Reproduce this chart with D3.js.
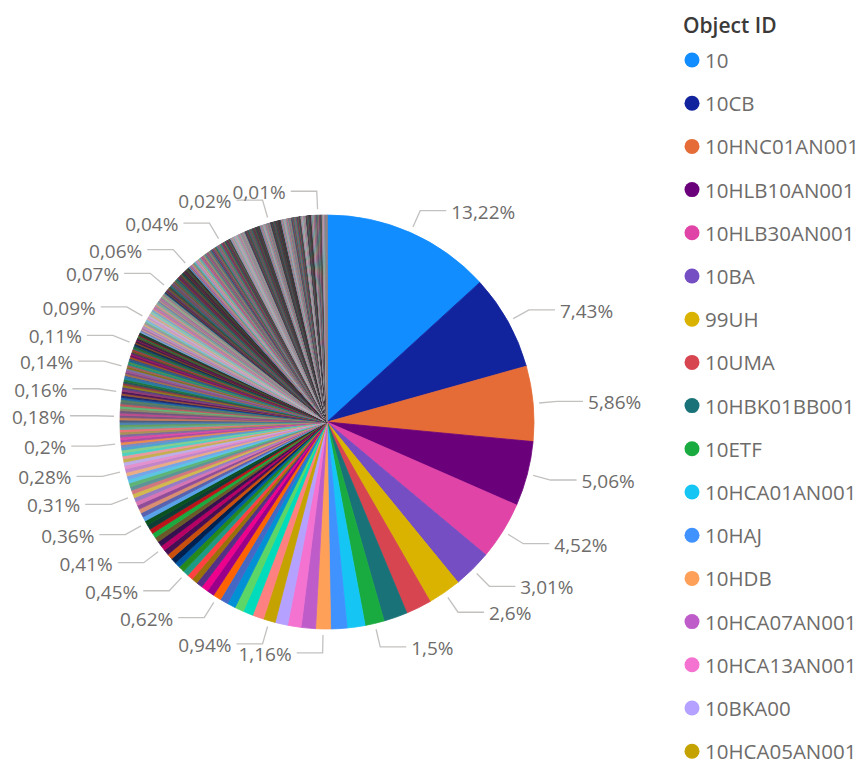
<!DOCTYPE html>
<html>
<head>
<meta charset="utf-8">
<script src="https://cdn.jsdelivr.net/npm/d3@7/dist/d3.min.js"></script>
<style>
  html, body { margin: 0; padding: 0; background: #ffffff; }
  svg { display: block; font-family: "Segoe UI", "Open Sans", sans-serif; }
</style>
</head>
<body>
<svg id="chart" width="868" height="766"></svg>
<script>
// Legend names (first entries of the category axis)
const objectIds = ["10", "10CB", "10HNC01AN001", "10HLB10AN001", "10HLB30AN001", "10BA",
  "99UH", "10UMA", "10HBK01BB001", "10ETF", "10HCA01AN001", "10HAJ", "10HDB",
  "10HCA07AN001", "10HCA13AN001", "10BKA00", "10HCA05AN001"];

// Record counts per object, sorted descending. Each group starts with the
// slice that carries a data label.
const countGroups = [
  [1322],
  [743],
  [586],
  [506],
  [452],
  [301],
  [260, 200, 185],
  [150, 140, 127],
  [116, 112, 105, 98],
  [94, 88, 78, 70, 65, 63],
  [62, 58, 53, 49, 46, 45],
  [45, 45, 44, 44, 43, 42],
  [41, 40, 39, 39, 38, 37],
  [36, 35, 34, 33, 32, 32, 31],
  [31, 30, 29, 29, 29, 28, 28],
  [28, 27, 26, 25, 24, 23, 22, 21, 20],
  [20, 20, 20, 20, 19, 19, 19, 19, 18, 18, 18],
  [18, 18, 18, 18, 17, 17, 17, 17, 16, 16, 16],
  [16, 16, 16, 16, 15, 15, 15, 15, 15, 14, 14, 14, 14],
  [14, 14, 14, 13, 13, 13, 13, 13, 12, 12, 12, 12, 12, 11, 11],
  [11, 11, 11, 11, 11, 11, 10, 10, 10, 10, 10, 10, 10, 10, 10, 10, 9, 9, 9, 9, 9, 9],
  [9, 9, 9, 9, 9, 9, 9, 9, 9,
   8, 8, 8, 8, 8, 8, 8, 8, 8, 8, 8, 8, 8, 8, 8, 8, 8, 8, 8, 8,
   7, 7, 7, 7, 7, 7],
  [7, 7, 7, 7, 7, 7, 7, 7, 7, 7, 7, 7, 7, 7, 7, 7, 7, 7, 7,
   6, 6, 6, 6, 6, 6, 6, 6, 6, 6, 6, 6, 6, 6, 6, 6],
  [6, 6, 6, 6, 6, 6, 6, 6, 6, 6, 6,
   5, 5, 5, 5, 5, 5, 5, 5, 5, 5, 5, 5, 5, 5, 5, 5, 5, 5, 5, 5,
   5, 5, 5, 5, 5, 5, 5, 5, 5, 5, 5, 5, 5, 5, 5, 5, 5, 5, 5, 5,
   4, 4, 4, 4, 4, 4, 4, 4, 4, 4, 4],
  [4, 4, 4, 4, 4, 4, 4, 4, 4, 4, 4, 4, 4, 4, 4, 4, 4, 4, 4, 4, 4,
   3, 3, 3, 3, 3, 3, 3, 3, 3, 3, 3, 3, 3, 3, 3, 3, 3, 3, 3, 3,
   3, 3, 3, 3, 3, 3, 3, 3, 3, 3, 3, 3, 3, 3, 3, 3, 3, 3, 3, 3,
   3, 3, 3, 3, 3, 3, 3, 3, 3, 3, 3, 3, 3, 3, 3, 3, 3, 3, 3, 3,
   3, 3, 3, 3, 3, 3, 3, 3, 3, 3, 3, 3, 3, 3, 3, 3, 3, 3, 3, 3,
   3, 3, 3, 3, 3,
   2, 2, 2, 2, 2, 2, 2, 2, 2, 2, 2, 2, 2, 2, 2, 2, 2, 2, 2, 2,
   2, 2, 2, 2, 2, 2, 2, 2, 2, 2, 2],
  [2,
   2, 2, 2, 2, 2, 2, 2, 2, 2, 2, 2, 2, 2, 2, 2, 2, 2, 2, 2, 2,
   2, 2, 2, 2, 2, 2, 2, 2, 2, 2, 2, 2, 2, 2, 2, 2, 2, 2, 2, 2,
   2, 2, 2, 2, 2, 2, 2, 2, 2, 2, 2, 2, 2, 2, 2, 2, 2, 2, 2, 2,
   2, 2, 2, 2, 2, 2, 2, 2, 2, 2, 2, 2, 2, 2, 2, 2, 2, 2, 2, 2,
   2, 2, 2, 2, 2, 2, 2, 2, 2, 2, 2, 2, 2, 2, 2, 2, 2, 2, 2, 2,
   2, 2, 2, 2, 2, 2, 2, 2, 2, 2, 2, 2, 2, 2, 2, 2, 2, 2, 2, 2,
   1, 1, 1, 1, 1, 1, 1, 1, 1, 1, 1, 1, 1, 1, 1, 1, 1, 1, 1, 1,
   1, 1, 1, 1, 1, 1, 1, 1, 1, 1, 1, 1, 1, 1, 1, 1, 1, 1, 1, 1,
   1, 1, 1, 1, 1, 1, 1, 1, 1, 1, 1, 1, 1, 1, 1, 1, 1, 1, 1, 1,
   1, 1, 1, 1, 1, 1, 1, 1, 1, 1, 1, 1, 1, 1, 1, 1, 1, 1, 1, 1,
   1, 1, 1, 1, 1, 1, 1, 1, 1, 1, 1, 1, 1, 1, 1, 1, 1, 1, 1, 1,
   1, 1, 1, 1, 1, 1, 1, 1, 1, 1, 1, 1, 1, 1, 1, 1, 1, 1, 1, 1,
   1, 1, 1, 1, 1, 1, 1, 1, 1, 1, 1, 1, 1, 1, 1, 1, 1, 1],
  [1,
   1, 1, 1, 1, 1, 1, 1, 1, 1, 1, 1, 1, 1, 1, 1, 1, 1, 1, 1, 1,
   1, 1, 1, 1, 1, 1, 1, 1, 1, 1, 1, 1, 1, 1, 1, 1, 1, 1, 1, 1,
   1, 1, 1, 1, 1, 1, 1, 1, 1, 1, 1, 1, 1, 1, 1, 1, 1, 1, 1, 1,
   1, 1, 1, 1, 1, 1, 1, 1, 1, 1]
];

// Report theme colours; further series reuse them in lighter / darker, muted shades.
const themeColors = ["#118DFF", "#12239E", "#E66C37", "#6B007B", "#E044A7", "#744EC2",
  "#D9B300", "#D64550", "#197278", "#1AAB40", "#15C6F4", "#4092FF", "#FFA058",
  "#BE5DC9", "#F472D0", "#B5A1FF", "#C4A200", "#FF8080", "#00DBBC", "#5BD667",
  "#0091D5", "#4668C5", "#FF6300", "#99008A", "#EC008C", "#533285", "#99700A",
  "#FF4141", "#1F9A85", "#25891C", "#0057A2", "#002050", "#C94F0F", "#450F54",
  "#B60064", "#34124F", "#6A5A29", "#1AAB40", "#BA141A", "#0C3D37", "#0B511F"];
const shadeSteps = [0, 0.35, -0.35, 0.5, -0.5, 0.25, -0.25, 0.45, -0.45, 0.3, -0.55, 0.3, -0.3,
  0.4, -0.5, 0.2, -0.2, 0.35, -0.4];

// ---- data table ----
const slices = [];
countGroups.forEach(grp => grp.forEach((v, j) => {
  slices.push({ index: slices.length, count: v, labelled: j === 0 });
}));
const total = d3.sum(slices, d => d.count);

function shade(hex, t, cycle) {
  if (t === 0) return hex;
  const muted = d3.interpolateRgb(hex, "#7d7a80")(Math.min(0.5, cycle * 0.07));
  return t > 0 ? d3.interpolateRgb(muted, "#cfcbd2")(t) : d3.interpolateRgb(muted, "#1c1f1c")(-t);
}
const palette = slices.map((d, i) => {
  const cycle = Math.floor(i / themeColors.length);
  return shade(themeColors[i % themeColors.length], shadeSteps[cycle % shadeSteps.length], cycle);
});
const color = d3.scaleOrdinal().domain(slices.map(d => d.index)).range(palette);

const locale = d3.formatLocale({ decimal: ",", thousands: ".", grouping: [3], currency: ["", "€"] });
const pct = locale.format(".2~f");

// ---- layout ----
const svg = d3.select("#chart");
const cx = 327, cy = 422, radius = 207;
const g = svg.append("g").attr("transform", `translate(${cx},${cy})`);

const pie = d3.pie().sort(null).value(d => d.count).startAngle(0).endAngle(2 * Math.PI);
const arcs = pie(slices);
const arc = d3.arc().innerRadius(0).outerRadius(radius);

g.selectAll("path.slice")
  .data(arcs)
  .join("path")
  .attr("class", "slice")
  .attr("d", arc)
  .attr("fill", d => color(d.data.index))
  .attr("stroke", d => color(d.data.index))
  .attr("stroke-width", 0.8)
  .attr("stroke-linejoin", "round");

// ---- data labels with elbow leaders ----
const startArc = d3.arc().innerRadius(radius + 6).outerRadius(radius + 6);
const elbowArc = d3.arc().innerRadius(radius + 24).outerRadius(radius + 24);
const run = 26, gap = 5;

const labelled = arcs.filter(d => d.data.labelled);
const lab = g.selectAll("g.label").data(labelled).join("g").attr("class", "label");

lab.append("polyline")
  .attr("fill", "none")
  .attr("stroke", "#C3C1BF")
  .attr("stroke-width", 1.3)
  .attr("points", d => {
    const mid = (d.startAngle + d.endAngle) / 2;
    const side = mid < Math.PI ? 1 : -1;
    const p0 = startArc.centroid(d);
    const p1 = elbowArc.centroid(d);
    return [p0, p1, [p1[0] + side * run, p1[1]]].map(p => p.join(",")).join(" ");
  });

lab.append("text")
  .attr("x", d => {
    const mid = (d.startAngle + d.endAngle) / 2;
    const side = mid < Math.PI ? 1 : -1;
    return elbowArc.centroid(d)[0] + side * (run + gap);
  })
  .attr("y", d => elbowArc.centroid(d)[1] + 1)
  .attr("dominant-baseline", "central")
  .attr("text-anchor", d => ((d.startAngle + d.endAngle) / 2 < Math.PI ? "start" : "end"))
  .attr("font-size", 19)
  .attr("fill", "#6E6C6A")
  .text(d => pct(d.data.count / total * 100) + "%");

// ---- legend ----
const legend = svg.append("g").attr("transform", "translate(683,0)");
legend.append("text")
  .attr("x", 0).attr("y", 25)
  .attr("dominant-baseline", "central")
  .attr("font-size", 21)
  .attr("font-weight", 600)
  .attr("fill", "#3B3A39")
  .text("Object ID");

const rowY = d3.scaleLinear().domain([0, 1]).range([60, 60 + 43.2]);
const item = legend.selectAll("g.item").data(objectIds).join("g")
  .attr("class", "item")
  .attr("transform", (d, i) => `translate(0,${rowY(i)})`);
item.append("circle").attr("cx", 9).attr("cy", 0).attr("r", 7.5)
  .attr("fill", (d, i) => color(i));
item.append("text").attr("x", 22).attr("y", 0)
  .attr("dominant-baseline", "central")
  .attr("font-size", 20.5)
  .attr("fill", "#6E6C6A")
  .text(d => d);
</script>
</body>
</html>
